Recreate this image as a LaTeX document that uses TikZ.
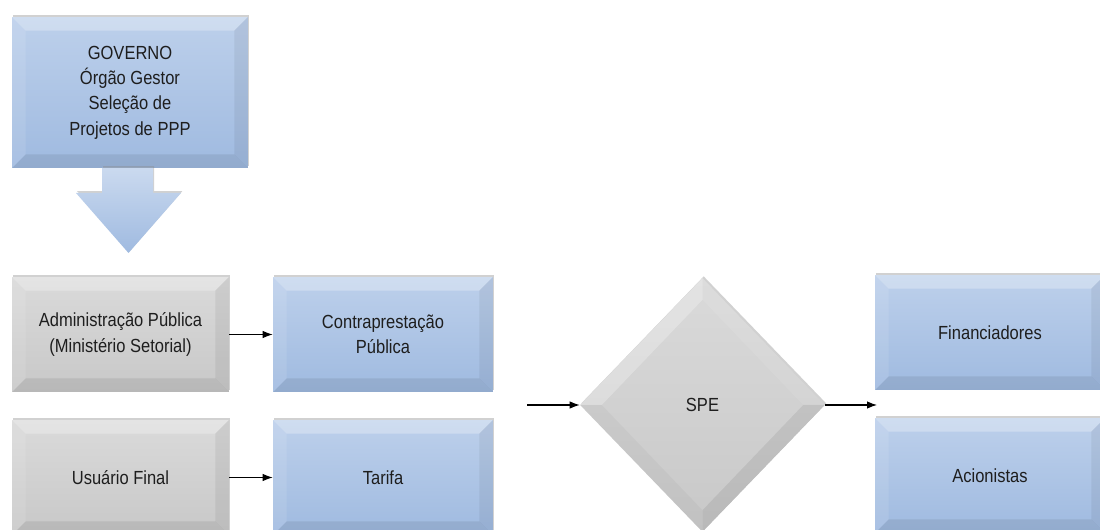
\documentclass[tikz,border=0pt]{standalone}
\usepackage{fontspec}
\setmainfont[FakeStretch=0.87]{Liberation Sans}
\usetikzlibrary{shapes.geometric,shadows,arrows.meta}

\definecolor{bluetop}{HTML}{BDD0EB}
\definecolor{bluebot}{HTML}{9FBAE0}
\definecolor{graytop}{HTML}{DADADA}
\definecolor{graybot}{HTML}{C8C8C8}
\definecolor{inktext}{HTML}{1E1E1E}

\newcommand{\bev}{0.27cm}
\newcommand{\boxfont}{\fontsize{10.8}{14.4}\selectfont}

\tikzset{
  bevelrect/.style={path picture={
    \fill[white,opacity=.28] (path picture bounding box.north west) -- (path picture bounding box.north east)
      -- ([shift={(-\bev,-\bev)}]path picture bounding box.north east) -- ([shift={(\bev,-\bev)}]path picture bounding box.north west) -- cycle;
    \fill[white,opacity=.10] (path picture bounding box.north west) -- ([shift={(\bev,-\bev)}]path picture bounding box.north west)
      -- ([shift={(\bev,\bev)}]path picture bounding box.south west) -- (path picture bounding box.south west) -- cycle;
    \fill[black,opacity=.06] (path picture bounding box.north east) -- (path picture bounding box.south east)
      -- ([shift={(-\bev,\bev)}]path picture bounding box.south east) -- ([shift={(-\bev,-\bev)}]path picture bounding box.north east) -- cycle;
    \fill[black,opacity=.08] (path picture bounding box.south west) -- ([shift={(\bev,\bev)}]path picture bounding box.south west)
      -- ([shift={(-\bev,\bev)}]path picture bounding box.south east) -- (path picture bounding box.south east) -- cycle;
  }},
  bevelkite/.style={path picture={
    \fill[white,opacity=.25] (path picture bounding box.west) -- (path picture bounding box.north)
      -- ([yshift=-1.6*\bev]path picture bounding box.north) -- ([xshift=1.6*\bev]path picture bounding box.west) -- cycle;
    \fill[white,opacity=.08] (path picture bounding box.north) -- (path picture bounding box.east)
      -- ([xshift=-1.6*\bev]path picture bounding box.east) -- ([yshift=-1.6*\bev]path picture bounding box.north) -- cycle;
    \fill[black,opacity=.03] (path picture bounding box.west) -- (path picture bounding box.south)
      -- ([yshift=1.6*\bev]path picture bounding box.south) -- ([xshift=1.6*\bev]path picture bounding box.west) -- cycle;
    \fill[black,opacity=.07] (path picture bounding box.south) -- (path picture bounding box.east)
      -- ([xshift=-1.6*\bev]path picture bounding box.east) -- ([yshift=1.6*\bev]path picture bounding box.south) -- cycle;
  }},
  softshadow/.style={drop shadow={shadow xshift=.7pt,shadow yshift=1pt,opacity=.4,fill=black!45}},
  basebox/.style={rectangle, inner sep=0pt, align=center, text=inktext, font=\boxfont,
    softshadow, bevelrect},
  bluebox/.style={basebox, top color=bluetop, bottom color=bluebot},
  graybox/.style={basebox, top color=graytop, bottom color=graybot},
  kite/.style={diamond, inner sep=0pt, minimum width=4.9cm, minimum height=5.08cm,
    top color=graytop, bottom color=graybot, text=inktext, font=\boxfont, softshadow, bevelkite},
  link/.style={-{Latex[length=2mm,width=1.5mm]}, line width=.6pt, black},
  bigarrow/.style={top color=bluetop!80!white, bottom color=bluebot, draw=none, softshadow}
}

\begin{document}
\begin{tikzpicture}[x=0.02cm,y=-0.02cm]
\clip (0,0) rectangle (1100,530);
\fill[white] (0,0) rectangle (1100,530);

% government
\node[bluebox, minimum width=4.72cm, minimum height=3.02cm] (governo) at (130,92.5)
  {GOVERNO\\Órgão Gestor\\Seleção de\\Projetos de PPP};
\path[bigarrow] (102,168) -- (153,168) -- (153,193) -- (181,193) -- (128.5,253)
  -- (76,193) -- (102,193) -- cycle;

% payers
\node[graybox, minimum width=4.34cm, minimum height=2.3cm] (admin) at (120.5,334.5)
  {Administração Pública\\(Ministério Setorial)};
\node[graybox, minimum width=4.34cm, minimum height=2.3cm] (usuario) at (120.5,477.5)
  {Usuário Final};

% revenues
\node[bluebox, minimum width=4.4cm, minimum height=2.3cm] (contra) at (383,334.5)
  {Contraprestação\\Pública};
\node[bluebox, minimum width=4.4cm, minimum height=2.3cm] (tarifa) at (383,477.5)
  {Tarifa};

% spe
\node[kite] (spe) at (702.5,405) {SPE};
\coordinate (entra) at (527,405);

% funding
\node[bluebox, minimum width=4.6cm, minimum height=2.3cm] (financ) at (990,332.5)
  {Financiadores};
\node[bluebox, minimum width=4.6cm, minimum height=2.3cm] (acion) at (990,475.5)
  {Acionistas};
\coordinate (sai) at (877,405);

\draw[link] (admin) -- (contra);
\draw[link] (usuario) -- (tarifa);
\draw[link] (entra) -- (spe.west);
\draw[link] (spe.east) -- (sai);
\end{tikzpicture}
\end{document}
